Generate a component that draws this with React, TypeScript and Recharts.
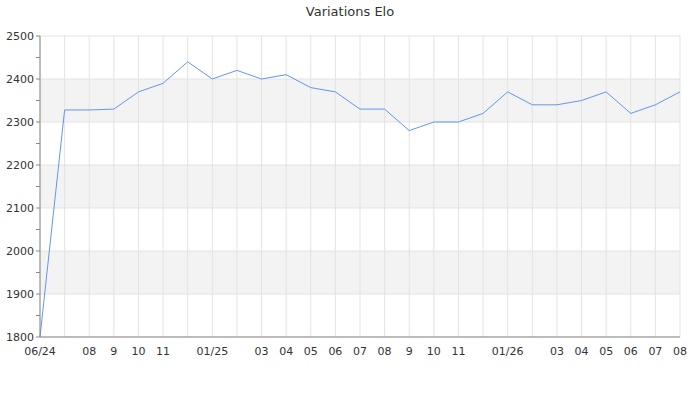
import { LineChart, Line, XAxis, YAxis, CartesianGrid } from 'recharts';

const months = [
  '06/24', '', '08', '9', '10', '11', '', '01/25', '', '03', '04', '05', '06', '07',
  '08', '9', '10', '11', '', '01/26', '', '03', '04', '05', '06', '07', '08',
];
const elo = [
  1800, 2328, 2328, 2330, 2370, 2390, 2440, 2400, 2420, 2400, 2410, 2380, 2370, 2330,
  2330, 2280, 2300, 2300, 2320, 2370, 2340, 2340, 2350, 2370, 2320, 2340, 2370,
];
const yTicks = [1800, 1850, 1900, 1950, 2000, 2050, 2100, 2150, 2200, 2250, 2300, 2350, 2400, 2450, 2500];
const gridValues = [1800, 1900, 2000, 2100, 2200, 2300, 2400, 2500];

const data = elo.map((v, i) => ({ idx: i, label: months[i], elo: v }));

const font = 'DejaVu Sans, sans-serif';

export default function App() {
  return (
    <div style={{ position: 'absolute', left: 0, top: 0, width: 700, height: 400, fontFamily: font }}>
      <div
        style={{
          position: 'absolute',
          top: 4,
          width: 700,
          textAlign: 'center',
          fontSize: 13,
          color: '#333',
        }}
      >
        Variations Elo
      </div>
      <LineChart width={700} height={400} data={data} margin={{ top: 36, right: 20, left: 0, bottom: 33 }}>
        <CartesianGrid
          stroke="#e3e3e3"
          horizontalValues={gridValues}
          horizontalFill={['#ffffff', '#f3f3f3']}
        />
        <XAxis
          dataKey="idx"
          type="category"
          interval={0}
          height={30}
          tickLine={false}
          tickSize={8}
          tickMargin={2}
          tickFormatter={(i: number) => months[i]}
          stroke="#888"
          tick={{ fontSize: 11, fill: '#333', fontFamily: font }}
        />
        <YAxis
          domain={[1800, 2500]}
          ticks={yTicks}
          interval={0}
          width={40}
          tickSize={4}
          tickMargin={2}
          stroke="#888"
          tickFormatter={(v: number) => (v % 100 === 0 ? String(v) : '')}
          tick={{ fontSize: 11, fill: '#333', fontFamily: font }}
        />
        <Line
          type="linear"
          dataKey="elo"
          stroke="#6495ed"
          strokeWidth={1}
          dot={false}
          isAnimationActive={false}
        />
      </LineChart>
    </div>
  );
}
